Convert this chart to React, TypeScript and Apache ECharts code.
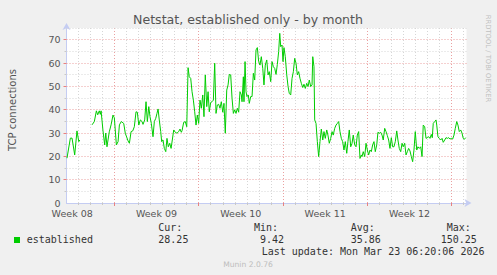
import React, { useEffect, useRef } from 'react';
import * as echarts from 'echarts';

// time in days relative to the week boundary (Week 09 start), values = TCP connections
const times = [
  -3.93, -3.65, -3.51, -3.29, -3.10, -2.95, -2.87, -2.40, -1.85, -1.66,
  -1.49, -1.38, -1.25, -1.16, -1.10, -0.94, -0.80, -0.71, -0.61, -0.42,
  -0.27, -0.11, 0.00, 0.17, 0.31, 0.42, 0.58, 0.78, 0.91, 1.14,
  1.25, 1.39, 1.53, 1.66, 1.80, 1.91, 2.03, 2.16, 2.30, 2.38,
  2.52, 2.63, 2.74, 2.86, 2.96, 3.07, 3.21, 3.32, 3.44, 3.54,
  3.63, 3.73, 3.85, 3.93, 4.04, 4.15, 4.27, 4.37, 4.48, 4.60,
  4.71, 4.81, 4.93, 5.06, 5.20, 5.34, 5.45, 5.56, 5.62, 5.76,
  5.89, 6.01, 6.12, 6.22, 6.34, 6.45, 6.56, 6.67, 6.78, 6.89,
  7.00, 7.11, 7.22, 7.34, 7.44, 7.55, 7.67, 7.78, 7.88, 8.00,
  8.11, 8.22, 8.33, 8.44, 8.55, 8.66, 8.77, 8.88, 9.00, 9.10,
  9.21, 9.33, 9.44, 9.54, 9.66, 9.77, 9.88, 9.99, 10.10, 10.21,
  10.32, 10.43, 10.54, 10.60, 10.71, 10.76, 10.85, 10.93, 11.01, 11.12,
  11.20, 11.32, 11.43, 11.54, 11.65, 11.76, 11.87, 11.98, 12.09, 12.20,
  12.32, 12.42, 12.53, 12.65, 12.76, 12.86, 12.98, 13.09, 13.20, 13.31,
  13.42, 13.53, 13.64, 13.73, 13.81, 13.92, 14.00, 14.08, 14.19, 14.31,
  14.42, 14.52, 14.64, 14.75, 14.86, 14.97, 15.08, 15.19, 15.30, 15.41,
  15.52, 15.64, 15.74, 15.85, 15.97, 16.08, 16.18, 16.30, 16.41, 16.47,
  16.57, 16.63, 16.74, 16.85, 16.96, 17.07, 17.18, 17.30, 17.40, 17.51,
  17.63, 17.73, 17.84, 17.96, 18.07, 18.17, 18.29, 18.40, 18.51, 18.62,
  18.73, 18.84, 18.95, 19.06, 19.17, 19.29, 19.39, 19.50, 19.62, 19.73,
  19.83, 19.95, 20.06, 20.17, 20.28, 20.39, 20.50, 20.56, 20.66, 20.78,
  20.89, 21.00, 21.11, 21.22, 21.33, 21.44, 21.55, 21.66, 21.78, 21.88,
  21.99, 22.11, 22.22, 22.32, 22.44, 22.55, 22.66, 22.77, 22.88, 22.99,
  23.10, 23.21, 23.32, 23.44, 23.54, 23.65, 23.77, 23.88, 23.98, 24.10,
  24.21, 24.32, 24.43, 24.54, 24.65, 24.76, 24.87, 24.98, 25.10, 25.20,
  25.31, 25.43, 25.54, 25.64, 25.76, 25.87, 25.98, 26.09, 26.20, 26.31,
  26.39, 26.47, 26.59, 26.70, 26.76, 26.86, 26.97, 27.09, 27.20, 27.30,
  27.42, 27.53, 27.64, 27.75, 27.86, 27.97, 28.08, 28.19, 28.30, 28.42,
  28.52, 28.63, 28.75, 28.86, 28.96, 29.05, 29.16,
];

const connections = [
  19.2, 27.8, 27.8, 20.6, 30.9, 26.3, 27, null, 33.5, 34.9,
  39.5, 37.8, 39.5, 38, 39.5, 30.9, 24.9, 30, 24.1, 30.5,
  33.5, 37.7, 36.5, 24.9, 26.3, 33.5, 34.9, 34.1, 29.9, 26.6,
  25.6, 30.6, 30.9, 32.7, 39.1, 38.9, 33.4, 35.6, 34.9, 33.7,
  35.6, 43.4, 34.9, 41.3, 37, 34.1, 28.4, 34.9, 36.3, 38.4,
  40.3, 35.6, 30.6, 26.3, 27, 23.4, 22, 27.7, 24.1, 25.6,
  23.4, 27, 31.3, 30.3, 29.9, 30.6, 31.7, 30.3, 31, 34.6,
  34.9, 32.7, 58, 54.1, 53.4, 47.7, 44.1, 39.1, 33.4, 37.7,
  34.1, 44.1, 40.6, 46.3, 37, 54.9, 41.3, 47.7, 39.1, 43.1,
  43.4, 44.1, 59.9, 38.4, 42, 42.3, 40.6, 43.4, 38.9, 42.7,
  29.9, 48.4, 50.6, 55.1, 54.9, 44.9, 38.4, 39.9, 38.4, 40.6,
  38.9, 47.7, 46.3, 43.4, 54.1, 43.4, 60.6, 47.7, 45.6, 46.3,
  42.7, 45.6, 45.6, 55.6, 52.7, 65.6, 66.6, 60.6, 59.1, 62.7,
  57.7, 50.6, 59.1, 61.3, 54.9, 56.3, 52, 60.6, 58.4, 57.7,
  55.1, 59.4, 64.9, 72.7, 67, 67.7, 60.6, 66.6, 62.7, 54.9,
  49.9, 47, 46.3, 53.4, 56.3, 62, 59.9, 54.9, 56.3, 53.4,
  51.3, 49.5, 50.9, 49.1, 51.3, 49.9, 52.7, 49.9, 50.6, 62.7,
  58.4, 35.6, 34.1, 26.3, 19.9, 26.3, 31.7, 27, 30.6, 27.7,
  31.3, 29.1, 25.6, 27.7, 30.6, 29.1, 32, 33.4, 34.1, 34.9,
  30.6, 27.7, 26.3, 22.7, 26.3, 21.3, 26.3, 31.3, 24.1, 25.6,
  29.1, 24.9, 24.1, 29.1, 30.6, 19.1, 20.6, 19.9, 22, 19.9,
  25.6, 22.7, 20.6, 22.7, 22, 24.9, 26.3, 22, 24.9, 30.3,
  29.9, 30.3, 29.1, 27, 32, 30.6, 28.9, 27, 23.4, 28,
  24.1, 24.1, 26.3, 30.9, 27, 23.4, 22, 25.6, 24.1, 25.6,
  20.6, 22, 23.4, 22.3, 19.9, 17.7, 22.7, 30.6, 22.7, 24.1,
  23.4, 24.1, 19.9, 33.4, 32.7, 27.7, 28, 28.4, 27.7, 29.4,
  28, 34.1, 34.9, 35.6, 33.4, 28.4, 27.7, 27, 27.7, 26,
  27, 28, 27.7, 28, 27.4, 27.7, 27.4, 29.1, 32, 34.9,
  33.4, 30.6, 31.3, 29.9, 27.7, 27.3, 28,
];

const weekTicks = [-3.5, 3.5, 10.5, 17.5, 24.5];
const weekLabels = ['Week 08', 'Week 09', 'Week 10', 'Week 11', 'Week 12'];
const dayLines = [-3, -2, -1, 0, 1, 2, 3, 4, 5, 6, 7, 8, 9, 10, 11, 12, 13, 14, 15, 16, 17, 18, 19, 20, 21, 22, 23, 24, 25, 26, 27, 28, 29];
const weekLines = [0, 7, 14, 21, 28];
const valueLines = [5, 10, 15, 20, 25, 30, 35, 40, 45, 50, 55, 60, 65, 70, 75];
const majorValueLines = [10, 20, 30, 40, 50, 60, 70];
const statHeads = ['Cur:', 'Min:', 'Avg:', 'Max:'];
const statValues = ['28.25', '9.42', '35.86', '150.25'];
const seriesName = 'established';
const titleText = 'Netstat, established only - by month';
const yName = 'TCP connections';
const lastUpdate = 'Last update: Mon Mar 23 06:20:06 2026';
const footer = 'Munin 2.0.76';
const watermark = 'RRDTOOL / TOBI OETIKER';

const X_MIN = -3.97;
const X_MAX = 29.23;
const Y_MAX = 75;

const GREEN = '#00cc00';
const MINOR = '#d6d6d6';
const MAJOR = '#eaa0a0';
const TICK_MINOR = '#c8c8c8';
const TICK_MAJOR = '#e88080';
const AXIS = '#c4ccf2';
const SANS = 'DejaVu Sans';
const MONO = 'DejaVu Sans Mono';

export default function App() {
  const ref = useRef<HTMLDivElement>(null);

  useEffect(() => {
    if (!ref.current) return;
    const chart = echarts.init(ref.current, undefined, { renderer: 'svg' });

    const lineData = times.map((t, i) => [t, connections[i] === null ? '-' : connections[i]]);

    const gridLines: any[] = [];
    dayLines.forEach((d) => {
      const major = weekLines.indexOf(d) >= 0;
      gridLines.push({
        xAxis: d,
        lineStyle: { color: major ? MAJOR : MINOR, type: [1, 2], width: 1 },
      });
    });
    valueLines.forEach((v) => {
      const major = majorValueLines.indexOf(v) >= 0;
      gridLines.push({
        yAxis: v,
        lineStyle: { color: major ? MAJOR : MINOR, type: [1, 2], width: 1 },
      });
    });

    const statX = [158.3, 254, 350.7, 446.7];
    const valX = [158.3, 260, 350.7, 440.7];

    const graphic: any[] = [
      {
        type: 'text',
        x: 248,
        y: 19,
        style: { text: titleText, fontFamily: SANS, fontSize: 12.6, fill: '#555', align: 'center', verticalAlign: 'middle' },
      },
      {
        type: 'text',
        x: 12,
        y: 110,
        rotation: Math.PI / 2,
        style: { text: yName, fontFamily: SANS, fontSize: 10, fill: '#555', align: 'center', verticalAlign: 'middle' },
      },
      {
        type: 'text',
        x: 487.5,
        y: 58.5,
        rotation: -Math.PI / 2,
        style: { text: watermark, fontFamily: SANS, fontSize: 6.8, fill: '#c0c0c0', align: 'center', verticalAlign: 'middle' },
      },
      {
        type: 'rect',
        shape: { x: 14, y: 237, width: 6, height: 6 },
        style: { fill: GREEN },
      },
      {
        type: 'text',
        x: 26.7,
        y: 239.7,
        style: { text: seriesName, fontFamily: MONO, fontSize: 10, fill: '#333', align: 'left', verticalAlign: 'middle' },
      },
      ...statHeads.map((s, i) => ({
        type: 'text',
        x: statX[i],
        y: 227.7,
        style: { text: s, fontFamily: MONO, fontSize: 10, fill: '#333', align: 'left', verticalAlign: 'middle' },
      })),
      ...statValues.map((s, i) => ({
        type: 'text',
        x: valX[i],
        y: 239.7,
        style: { text: s, fontFamily: MONO, fontSize: 10, fill: '#333', align: 'left', verticalAlign: 'middle' },
      })),
      {
        type: 'text',
        x: 261.7,
        y: 251.7,
        style: { text: lastUpdate, fontFamily: MONO, fontSize: 10, fill: '#333', align: 'left', verticalAlign: 'middle' },
      },
      {
        type: 'text',
        x: 248,
        y: 264,
        style: { text: footer, fontFamily: SANS, fontSize: 7.6, fill: '#bdbdbd', align: 'center', verticalAlign: 'middle' },
      },
    ];

    chart.setOption({
      animation: false,
      backgroundColor: '#f0f0f0',
      grid: {
        left: 66.5,
        top: 28,
        width: 400,
        height: 175,
        show: true,
        backgroundColor: '#ffffff',
        borderWidth: 0,
      },
      xAxis: [
        {
          type: 'value',
          min: X_MIN,
          max: X_MAX,
          position: 'bottom',
          splitLine: { show: false },
          axisTick: { show: true, customValues: dayLines, length: 2, lineStyle: { color: TICK_MINOR } },
          axisLine: {
            show: true,
            onZero: false,
            symbol: ['none', 'arrow'],
            symbolSize: [6, 7],
            symbolOffset: [0, 5],
            lineStyle: { color: AXIS, width: 1 },
          },
          axisLabel: {
            customValues: weekTicks,
            formatter: (v: number) => {
              let best = 0;
              weekTicks.forEach((w, i) => {
                if (Math.abs(w - v) < Math.abs(weekTicks[best] - v)) best = i;
              });
              return weekLabels[best];
            },
            color: '#555',
            fontFamily: SANS,
            fontSize: 9.5,
            margin: 5,
          },
        },
        {
          type: 'value',
          min: X_MIN,
          max: X_MAX,
          position: 'bottom',
          offset: 0,
          splitLine: { show: false },
          axisLine: { show: false, onZero: false },
          axisLabel: { show: false },
          axisTick: { show: true, customValues: weekLines, length: 3, lineStyle: { color: TICK_MAJOR } },
        },
      ],
      yAxis: [
        {
          type: 'value',
          min: 0,
          max: Y_MAX,
          interval: 10,
          position: 'left',
          splitLine: { show: false },
          axisTick: { show: true, customValues: valueLines, length: 2, lineStyle: { color: TICK_MINOR } },
          axisLine: {
            show: true,
            onZero: false,
            symbol: ['none', 'arrow'],
            symbolSize: [6, 7],
            symbolOffset: [0, 5],
            lineStyle: { color: AXIS, width: 1 },
          },
          axisLabel: {
            showMaxLabel: false,
            color: '#555',
            fontFamily: SANS,
            fontSize: 9.5,
            margin: 6,
          },
        },
        {
          type: 'value',
          min: 0,
          max: Y_MAX,
          position: 'left',
          offset: 0,
          splitLine: { show: false },
          axisLine: { show: false, onZero: false },
          axisLabel: { show: false },
          axisTick: { show: true, customValues: majorValueLines, length: 3, lineStyle: { color: TICK_MAJOR } },
        },
      ],
      series: [
        {
          type: 'line',
          name: 'grid',
          data: [],
          silent: true,
          z: 1,
          markLine: {
            silent: true,
            symbol: ['none', 'none'],
            label: { show: false },
            z: 1,
            data: gridLines,
          },
        },
        {
          type: 'line',
          name: seriesName,
          data: lineData,
          showSymbol: false,
          symbol: 'none',
          connectNulls: false,
          z: 5,
          lineStyle: { color: GREEN, width: 1 },
          itemStyle: { color: GREEN },
        },
      ],
      graphic,
    });

    return () => chart.dispose();
  }, []);

  return (
    <div
      ref={ref}
      style={{ position: 'fixed', left: 0, top: 0, width: 497, height: 275 }}
    />
  );
}
